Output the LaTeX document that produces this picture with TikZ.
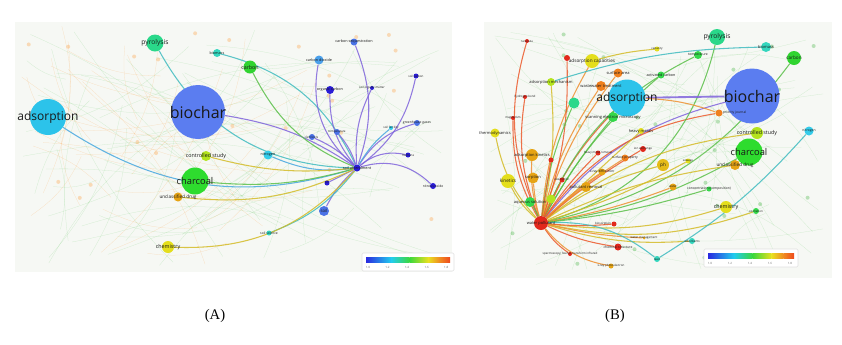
\documentclass[tikz,border=0pt]{standalone}
\usepackage{fontspec}
\setmainfont{Liberation Serif}
\newfontfamily\vos{Open Sans}
\pgfdeclarelayer{bg}
\pgfdeclarelayer{edges}
\pgfsetlayers{bg,edges,main}

% node colours
\definecolor{nBio}{HTML}{5B7DF0}
\definecolor{nAds}{HTML}{2CC3EA}
\definecolor{nChar}{HTML}{2EDC2E}
\definecolor{nPyr}{HTML}{2AD88A}
\definecolor{nTeal}{HTML}{34D6BE}
\definecolor{nCarb}{HTML}{30D430}
\definecolor{nYG}{HTML}{B4E41E}
\definecolor{nOr}{HTML}{E6A414}
\definecolor{nYel}{HTML}{E4DE1C}
\definecolor{nRed}{HTML}{E2281C}
\definecolor{nOr2}{HTML}{F0801E}
\definecolor{nVio}{HTML}{2A1CD6}
\definecolor{nBlu2}{HTML}{4A72E6}
\definecolor{nSky}{HTML}{4AA0EA}
\definecolor{nCyan}{HTML}{34CCEA}
\definecolor{nGrn}{HTML}{34D84A}
% edge colours
\definecolor{eVio}{HTML}{8064DC}
\definecolor{eRed}{HTML}{EC5A2C}
\definecolor{eOr}{HTML}{EE9030}
\definecolor{eYel}{HTML}{D4BC28}
\definecolor{eGrn}{HTML}{5CC04A}
\definecolor{eTeal}{HTML}{40BCC0}
\definecolor{eCyan}{HTML}{48A8E0}
\definecolor{panel}{HTML}{F6F8F4}
% colour bar
\definecolor{cb1}{HTML}{2A2AE0}
\definecolor{cb2}{HTML}{22CCEE}
\definecolor{cb3}{HTML}{3CD83C}
\definecolor{cb4}{HTML}{E8E020}
\definecolor{cb5}{HTML}{F08A20}
\definecolor{cb6}{HTML}{EE4A1E}

\begin{document}
\begin{tikzpicture}[x=0.75pt,y=-0.75pt,
  bub/.style 2 args={circle, inner sep=0pt, minimum size={#1*0.75pt}, fill=#2},
  lab/.style={font={\vos\fontsize{#1}{#1}\selectfont}, text=black!90, inner sep=0pt},
  edge/.style={draw=#1, line width=0.8pt, draw opacity=0.85},
  faint/.style={draw=#1, line width=0.2pt, draw opacity=0.2},
  ghost/.style={circle, inner sep=0pt, minimum size=3pt, fill=#1, fill opacity=0.25}]

  \useasboundingbox (0,0) rectangle (842,344);

  % backgrounds of the two maps
  \begin{pgfonlayer}{bg}
    \fill[white] (0,0) rectangle (842,344);
    \fill[panel] (15,22) rectangle (452,272);
    \fill[panel] (484,22) rectangle (832,278);
    \pgfmathsetseed{42}
    \foreach \i in {1,...,60}{
      \pgfmathsetmacro\xa{20+425*rnd}
      \pgfmathsetmacro\ya{26+240*rnd}
      \pgfmathsetmacro\xb{20+425*rnd}
      \pgfmathsetmacro\yb{26+240*rnd}
      \draw[faint=green!50!gray] (\xa,\ya) to[bend left=15] (\xb,\yb);
    }
    \foreach \i in {1,...,35}{
      \pgfmathsetmacro\xa{20+200*rnd}
      \pgfmathsetmacro\ya{26+240*rnd}
      \pgfmathsetmacro\xb{20+300*rnd}
      \pgfmathsetmacro\yb{26+240*rnd}
      \draw[faint=orange] (\xa,\ya) to[bend right=15] (\xb,\yb);
    }
    \foreach \i in {1,...,60}{
      \pgfmathsetmacro\xa{488+340*rnd}
      \pgfmathsetmacro\ya{26+248*rnd}
      \pgfmathsetmacro\xb{488+340*rnd}
      \pgfmathsetmacro\yb{26+248*rnd}
      \draw[faint=green!50!gray] (\xa,\ya) to[bend left=15] (\xb,\yb);
    }
    % pale background terms
    \foreach \i in {1,...,25}{
      \pgfmathsetmacro\xa{25+410*rnd}
      \pgfmathsetmacro\ya{30+230*rnd}
      \pgfmathsetmacro\xb{495+325*rnd}
      \pgfmathsetmacro\yb{30+235*rnd}
      \node[ghost=orange] at (\xa,\ya) {};
      \node[ghost=green!60!black] at (\xb,\yb) {};
    }
  \end{pgfonlayer}

  % ---- map (A)
  \node[bub={36}{nAds}, label={[lab=9pt]center:adsorption}] (adsA) at (48,117) {};
  \node[bub={54}{nBio}, label={[lab=12pt]center:biochar}] (bioA) at (198,112) {};
  \node[bub={17}{nPyr}, label={[lab=5pt]center:pyrolysis}] (pyrA) at (155,43) {};
  \node[bub={8}{nTeal}, label={[lab=2.8pt]center:biomass}] (bmsA) at (217,53) {};
  \node[bub={13}{nCarb}, label={[lab=4pt]center:carbon}] (carA) at (250,67) {};
  \node[bub={7}{nBlu2}, label={[lab=2.8pt]center:carbon sequestration}] (csqA) at (354,42) {};
  \node[bub={9}{nSky}, label={[lab=2.8pt]center:carbon dioxide}] (codA) at (319,60) {};
  \node[bub={8}{nVio}, label={[lab=2.8pt]center:organic carbon}] (orgA) at (330,90) {};
  \node[bub={4}{nVio}, label={[lab=2.2pt]center:soil organic matter}] (somA) at (372,88) {};
  \node[bub={5}{nVio}, label={[lab=2.2pt]center:soil carbon}] (scA) at (416,76) {};
  \node[bub={6}{nBlu2}, label={[lab=2.5pt]center:greenhouse gases}] (ghgA) at (417,123) {};
  \node[bub={4}{nCyan}, label={[lab=2.2pt]center:soil fertility}] (sfA) at (391,128) {};
  \node[bub={6}{nBlu2}, label={[lab=2.2pt]center:temperature}] (tmpA) at (337,132) {};
  \node[bub={6}{nBlu2}, label={[lab=2.2pt]center:fertilizers}] (ferA) at (312,137) {};
  \node[bub={9}{nCyan}, label={[lab=2.8pt]center:nitrogen}] (nitA) at (268,155) {};
  \node[bub={7}{nVio}, label={[lab=2.8pt]center:soil amendment}] (saA) at (357,168) {};
  \node[bub={5}{nVio}, label={[lab=2.2pt]center:methane}] (metA) at (408,155) {};
  \node[bub={6}{nVio}, label={[lab=2.5pt]center:nitrous oxide}] (noxA) at (433,186) {};
  \node[bub={5}{nVio}, label={[lab=2.2pt]center:ph}] (phA) at (327,183) {};
  \node[bub={10}{nBlu2}, label={[lab=3.2pt]center:soil}] (soilA) at (324,211) {};
  \node[bub={5}{nTeal}, label={[lab=2.5pt]center:soil science}] (sscA) at (269,233) {};
  \node[bub={10}{nYG}, label={[lab=4pt]center:controlled study}] (ctlA) at (206,156) {};
  \node[bub={27}{nChar}, label={[lab=7pt]center:charcoal}] (chcA) at (195,181) {};
  \node[bub={9}{nOr}, label={[lab=3.5pt]center:unclassified drug}] (ucdA) at (178,197) {};
  \node[bub={12}{nYel}, label={[lab=4pt]center:chemistry}] (chmA) at (168,247) {};

  % links of soil amendment
  \begin{pgfonlayer}{edges}
    \foreach \t/\c/\b in {bioA/eVio/12, adsA/eCyan/-25, pyrA/eTeal/-30, bmsA/eTeal/25,
        carA/eGrn/-20, csqA/eVio/20, codA/eVio/-30, orgA/eVio/-20, somA/eVio/-15,
        scA/eVio/20, ghgA/eVio/-20, sfA/eCyan/-10, tmpA/eVio/10, ferA/eVio/10,
        nitA/eCyan/-15, metA/eVio/-25, noxA/eVio/-30, phA/eVio/0, soilA/eVio/10,
        sscA/eTeal/-15, ctlA/eYel/-10, chcA/eGrn/-10, ucdA/eYel/-15, chmA/eYel/-25}
      \draw[edge=\c] (\t) to[bend left=\b] (saA);
  \end{pgfonlayer}

  % ---- map (B)
  \node[bub={55}{nBio}, label={[lab=12pt]center:biochar}] (bioB) at (752,96) {};
  \node[bub={37}{nAds}, label={[lab=9pt]center:adsorption}] (adsB) at (627,98) {};
  \node[bub={16}{nPyr}, label={[lab=5pt]center:pyrolysis}] (pyrB) at (717,37) {};
  \node[bub={10}{nTeal}, label={[lab=3pt]center:biomass}] (bmsB) at (766,47) {};
  \node[bub={14}{nCarb}, label={[lab=3.5pt]center:carbon}] (carB) at (794,58) {};
  \node[bub={8}{nGrn}, label={[lab=2.5pt]center:temperature}] (tmpB) at (698,55) {};
  \node[bub={7}{nGrn}, label={[lab=2.8pt]center:activated carbon}] (acB) at (661,75) {};
  \node[bub={5}{nYel}, label={[lab=2.2pt]center:capacity}] (capB) at (657,49) {};
  \node[bub={7}{nOr2}, label={[lab=2.5pt]0:priority journal}] (pjB) at (719,113) {};
  \node[bub={12}{nYG}, label={[lab=4pt]center:controlled study}] (ctlB) at (757,133) {};
  \node[bub={9}{nCyan}, label={[lab=2.5pt]center:nitrogen}] (nitB) at (809,131) {};
  \node[bub={27}{nChar}, label={[lab=7pt]center:charcoal}] (chcB) at (749,152) {};
  \node[bub={10}{nOr}, label={[lab=3.5pt]center:unclassified drug}] (ucdB) at (735,165) {};
  \node[bub={12}{nOr!60!nYel}, label={[lab=3.5pt]center:ph}] (phB) at (663,165) {};
  \node[bub={5}{nYel}, label={[lab=2.2pt]center:sewage}] (swgB) at (688,161) {};
  \node[bub={7}{nOr}, label={[lab=2.2pt]center:water}] (watB) at (673,187) {};
  \node[bub={5}{nGrn}, label={[lab=2.5pt]center:concentration (composition)}] (conB) at (709,189) {};
  \node[bub={12}{nYel}, label={[lab=4pt]center:chemistry}] (chmB) at (726,207) {};
  \node[bub={6}{nGrn}, label={[lab=2.2pt]center:ozonation}] (ozB) at (756,211) {};
  \node[bub={6}{nTeal}, label={[lab=2.2pt]center:adsorbents}] (absB) at (692,241) {};
  \node[bub={6}{nTeal}, label={[lab=2.2pt]center:lead}] (leadB) at (657,259) {};
  \node[bub={3}{nOr}, label={[lab=2.2pt]center:water management}] (wmB) at (644,238) {};
  \node[bub={10}{nOr2}, label={[lab=3pt]center:wastewater treatment}] (wwtB) at (601,86) {};
  \node[bub={9}{nOr2}, label={[lab=3pt]center:surface area}] (sarB) at (618,73) {};
  \node[bub={14}{nYel}, label={[lab=3.5pt]center:adsorption capacities}] (acapB) at (592,61) {};
  \node[bub={8}{nYG}, label={[lab=3pt]center:adsorption mechanism}] (amB) at (551,82) {};
  \node[bub={11}{nPyr}] (gB) at (574,103) {};
  \node[bub={10}{nGrn}, label={[lab=3pt]center:scanning electron microscopy}] (semB) at (613,117) {};
  \node[bub={6}{nYel}, label={[lab=3pt]center:heavy metals}] (hmB) at (641,131) {};
  \node[bub={6}{nRed}] (r1B) at (567,58) {};
  \node[bub={4}{nRed}, label={[lab=2pt]center:nanotube}] (npB) at (527,41) {};
  \node[bub={4}{nRed}, label={[lab=2.2pt]center:hydrogen bond}] (hbB) at (525,97) {};
  \node[bub={4}{nRed}, label={[lab=2.2pt]center:magnetism}] (mgB) at (513,118) {};
  \node[bub={9}{nYel}, label={[lab=3pt]center:thermodynamics}] (thB) at (495,133) {};
  \node[bub={12}{nOr}, label={[lab=3pt]center:adsorption kinetics}] (akB) at (532,155) {};
  \node[bub={14}{nYel}, label={[lab=3.5pt]center:kinetics}] (kinB) at (508,181) {};
  \node[bub={11}{nOr}, label={[lab=3pt]center:sorption}] (isoB) at (533,178) {};
  \node[bub={5}{nRed}] (r2B) at (551,160) {};
  \node[bub={5}{nRed}, label={[lab=2.2pt]center:desorption}] (desB) at (562,180) {};
  \node[bub={10}{nOr}, label={[lab=3pt]center:pollutant removal}] (prB) at (586,187) {};
  \node[bub={7}{nOr}, label={[lab=2.5pt]center:x-ray diffraction}] (xrdB) at (602,172) {};
  \node[bub={7}{nOr2}, label={[lab=2.5pt]center:surface property}] (spB) at (625,158) {};
  \node[bub={6}{nRed}, label={[lab=2.2pt]center:ion exchange}] (ieB) at (643,149) {};
  \node[bub={5}{nRed}, label={[lab=2.2pt]center:heavy metal removal}] (hmrB) at (598,153) {};
  \node[bub={10}{nGrn}, label={[lab=3pt]center:aqueous solution}] (aqB) at (530,202) {};
  \node[bub={9}{nYG}] (lgB) at (551,199) {};
  \node[bub={14}{nRed}, label={[lab=3pt]center:water pollutant}] (wpB) at (541,223) {};
  \node[bub={5}{nRed}, label={[lab=2.2pt]180:biosorption}] (bsB) at (614,224) {};
  \node[bub={7}{nRed}, label={[lab=2.5pt]center:chemical structure}] (chrB) at (618,247) {};
  \node[bub={4}{nRed}, label={[lab=2.2pt]center:spectroscopy, fourier transform infrared}] (ftB) at (570,254) {};
  \node[bub={5}{nOr}, label={[lab=2.2pt]center:x-ray photoelectron}] (xpsB) at (611,266) {};

  % links of water pollutant
  \begin{pgfonlayer}{edges}
    \foreach \t/\c/\b in {bioB/eVio/18, pjB/eRed/22, adsB/eRed/10, carB/eGrn/-20,
        pyrB/eGrn/-30, tmpB/eGrn/20, acB/eGrn/10, chcB/eGrn/-10, ucdB/eYel/8,
        ctlB/eYel/15, chmB/eYel/-12, ozB/eYel/-15, absB/eYel/-10, phB/eYel/10,
        npB/eRed/20, hbB/eRed/15, mgB/eRed/15, thB/eYel/15, akB/eOr/10, kinB/eYel/10,
        isoB/eOr/5, aqB/eGrn/-5, lgB/eYel/0, acapB/eOr/12, sarB/eOr/10, wwtB/eOr/10,
        r1B/eRed/-10, amB/eYel/-8, semB/eGrn/5, gB/eGrn/8, hmB/eYel/0, spB/eOr/5,
        xrdB/eOr/5, ieB/eRed/5, hmrB/eRed/5, prB/eOr/5, r2B/eRed/0, desB/eRed/0,
        swgB/eYel/-5, watB/eOr/-5, conB/eGrn/-5, bsB/eRed/-5, chrB/eRed/-8,
        ftB/eRed/-10, xpsB/eOr/-20, wmB/eOr/-5, leadB/eTeal/20}
      \draw[edge=\c] (wpB) to[bend left=\b] (\t);
    \draw[edge=eVio, line width=1.4pt] (adsB) -- (bioB);
    \draw[edge=eTeal] (amB) to[bend left=8] (bmsB);
    \draw[edge=eYel] (acapB) to[bend left=5] (capB);
    \draw[edge=eTeal] (leadB) to[bend left=-8] (nitB);
    \draw[edge=eOr] (pjB) to[bend left=-8] (adsB);
  \end{pgfonlayer}

  % colour bars
  \foreach \px/\py/\w in {366/257/84, 708/253/86}{
    \begin{scope}[shift={(\px,\py)}]
      \draw[black!12, fill=white, rounded corners=1pt] (-4,-4) rectangle (\w+4,14);
      \shade[left color=cb1, right color=cb2] (0,0) rectangle (0.3*\w,5);
      \shade[left color=cb2, right color=cb3] (0.3*\w,0) rectangle (0.52*\w,5);
      \shade[left color=cb3, right color=cb4] (0.52*\w,0) rectangle (0.74*\w,5);
      \shade[left color=cb4, right color=cb5] (0.74*\w,0) rectangle (0.88*\w,5);
      \shade[left color=cb5, right color=cb6] (0.88*\w,0) rectangle (\w,5);
      \foreach \k [count=\n from 0] in {1.0,1.2,1.4,1.6,1.8}
        \node[lab=2.2pt, text=black!60] at (2+\n*\w/4.3,10) {\k};
    \end{scope}
  }

  % captions
  \node[font=\fontsize{11pt}{13pt}\selectfont] (capA) at (215,316) {(A)};
  \node[font=\fontsize{11pt}{13pt}\selectfont] (capB) at (615,316) {(B)};

\end{tikzpicture}
\end{document}
